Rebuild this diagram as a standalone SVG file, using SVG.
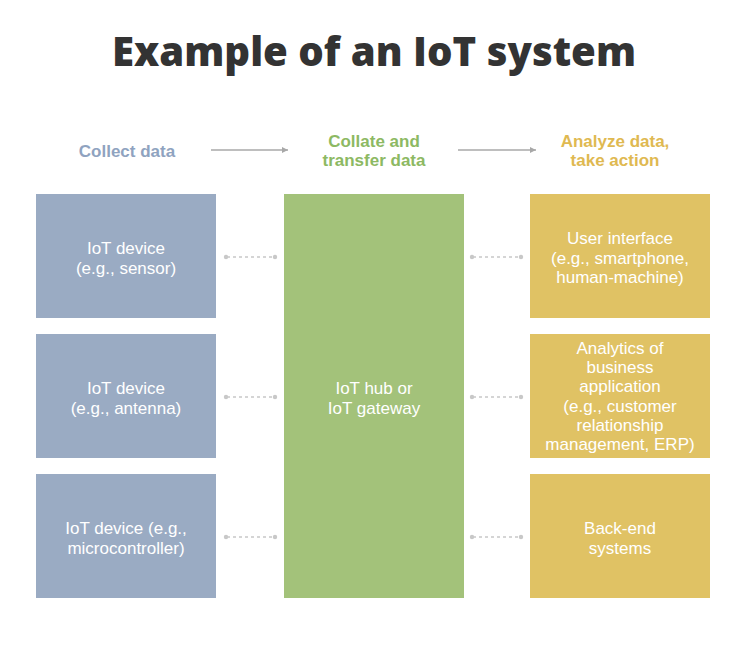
<svg xmlns="http://www.w3.org/2000/svg" width="750" height="645" viewBox="0 0 750 645">
<defs>
<style>
.t{font-family:"Liberation Sans",Arial,sans-serif;font-size:17px;fill:#fff;text-anchor:middle}
.h{font-family:"Liberation Sans",Arial,sans-serif;font-size:17px;font-weight:bold;text-anchor:middle}
.b{fill:#9aabc3}.g{fill:#a3c27a}.y{fill:#e0c264}
.d{stroke:#c8c8c8;stroke-width:1.3;stroke-dasharray:3 3;fill:none}
.dot{fill:#c8c8c8}
.a{stroke:#a8a8a8;stroke-width:1.3;fill:none}
</style>
<marker id="ah" markerWidth="6" markerHeight="6" refX="5" refY="3" orient="auto"><path d="M0,0.5 L5,3 L0,5.5z" fill="#a8a8a8"/></marker>
</defs>
<rect width="750" height="645" fill="#fff"/>
<text x="374" y="66" font-family="Open Sans,Liberation Sans,sans-serif" font-size="41" font-weight="800" fill="#333" text-anchor="middle" textLength="524" lengthAdjust="spacingAndGlyphs">Example of an IoT system</text>
<g id="headers">
<text class="h" x="127" y="157" fill="#8fa3c0">Collect data</text>
<text class="h" x="374" y="147" fill="#8db963">Collate and</text>
<text class="h" x="374" y="166" fill="#8db963">transfer data</text>
<text class="h" x="615" y="147" fill="#dfb951">Analyze data,</text>
<text class="h" x="615" y="166" fill="#dfb951">take action</text>
</g>
<g id="connectors">
<line class="a" x1="211" y1="150" x2="288" y2="150" marker-end="url(#ah)"/>
<line class="a" x1="458" y1="150" x2="536" y2="150" marker-end="url(#ah)"/>
<g id="c1"><line class="d" x1="227" y1="257" x2="274" y2="257"/><circle class="dot" cx="226" cy="257" r="2.2"/><circle class="dot" cx="275" cy="257" r="2.2"/></g>
<g id="c2"><line class="d" x1="227" y1="397" x2="274" y2="397"/><circle class="dot" cx="226" cy="397" r="2.2"/><circle class="dot" cx="275" cy="397" r="2.2"/></g>
<g id="c3"><line class="d" x1="227" y1="537" x2="274" y2="537"/><circle class="dot" cx="226" cy="537" r="2.2"/><circle class="dot" cx="275" cy="537" r="2.2"/></g>
<g id="c4"><line class="d" x1="473" y1="257" x2="520" y2="257"/><circle class="dot" cx="472" cy="257" r="2.2"/><circle class="dot" cx="521" cy="257" r="2.2"/></g>
<g id="c5"><line class="d" x1="473" y1="397" x2="520" y2="397"/><circle class="dot" cx="472" cy="397" r="2.2"/><circle class="dot" cx="521" cy="397" r="2.2"/></g>
<g id="c6"><line class="d" x1="473" y1="537" x2="520" y2="537"/><circle class="dot" cx="472" cy="537" r="2.2"/><circle class="dot" cx="521" cy="537" r="2.2"/></g>
</g>
<g id="sensor"><rect class="b" x="36" y="194" width="180" height="124"/>
<text class="t" x="126" y="254">IoT device</text><text class="t" x="126" y="274">(e.g., sensor)</text></g>
<g id="antenna"><rect class="b" x="36" y="334" width="180" height="124"/>
<text class="t" x="126" y="394">IoT device</text><text class="t" x="126" y="414">(e.g., antenna)</text></g>
<g id="micro"><rect class="b" x="36" y="474" width="180" height="124"/>
<text class="t" x="126" y="534">IoT device (e.g.,</text><text class="t" x="126" y="554">microcontroller)</text></g>
<g id="hub"><rect class="g" x="284" y="194" width="180" height="404"/>
<text class="t" x="374" y="394">IoT hub or</text><text class="t" x="374" y="414">IoT gateway</text></g>
<g id="ui"><rect class="y" x="530" y="194" width="180" height="124"/>
<text class="t" x="620" y="244">User interface</text><text class="t" x="620" y="263.5">(e.g., smartphone,</text><text class="t" x="620" y="283">human-machine)</text></g>
<g id="analytics"><rect class="y" x="530" y="334" width="180" height="124"/>
<text class="t" x="620" y="354">Analytics of</text><text class="t" x="620" y="373.2">business</text><text class="t" x="620" y="392.4">application</text><text class="t" x="620" y="411.6">(e.g., customer</text><text class="t" x="620" y="430.8">relationship</text><text class="t" x="620" y="450">management, ERP)</text></g>
<g id="backend"><rect class="y" x="530" y="474" width="180" height="124"/>
<text class="t" x="620" y="534">Back-end</text><text class="t" x="620" y="554">systems</text></g>
</svg>
